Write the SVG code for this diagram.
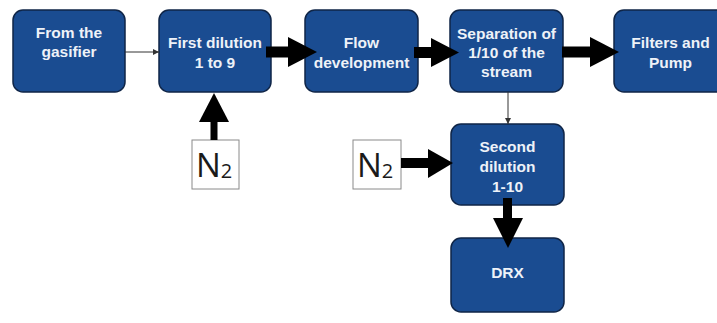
<svg xmlns="http://www.w3.org/2000/svg" width="717" height="323" viewBox="0 0 717 323">
<style>
.box{fill:#1a4c91;stroke:#0f2547;stroke-width:1.5}
.lbl{font-family:"Liberation Sans",Arial,sans-serif;font-weight:bold;font-size:15.5px;fill:#eef2f8;text-anchor:middle}
.nbox{fill:#ffffff;stroke:#8a8a8a;stroke-width:1}
.n2{font-family:"Open Sans","Liberation Sans",sans-serif;font-size:33px;fill:#1a1a1a}
.thick{fill:#000000}
.thin{stroke:#333333;stroke-width:1;fill:none}
</style>
<defs>
<marker id="sm" markerWidth="6" markerHeight="6" refX="6" refY="3" orient="auto" markerUnits="userSpaceOnUse">
<path d="M0,0 L6,3 L0,6 Z" fill="#333333"/>
</marker>
</defs>
<rect width="717" height="323" fill="#ffffff"/>
<g id="node-gasifier">
<rect class="box" x="13" y="10" width="112" height="82" rx="10"/>
<text class="lbl" x="69" y="38">From the</text>
<text class="lbl" x="69" y="57">gasifier</text>
</g>
<g id="node-first-dilution">
<rect class="box" x="159" y="10" width="112" height="82" rx="10"/>
<text class="lbl" x="215" y="48">First dilution</text>
<text class="lbl" x="215" y="68">1 to 9</text>
</g>
<g id="node-flow">
<rect class="box" x="305" y="10" width="113" height="82" rx="10"/>
<text class="lbl" x="361.5" y="48">Flow</text>
<text class="lbl" x="361.5" y="68">development</text>
</g>
<g id="node-separation">
<rect class="box" x="450" y="10" width="113" height="82" rx="10"/>
<text class="lbl" x="506.5" y="39">Separation of</text>
<text class="lbl" x="506.5" y="58">1/10 of the</text>
<text class="lbl" x="506.5" y="77">stream</text>
</g>
<g id="node-filters">
<rect class="box" x="614" y="10" width="113" height="82" rx="10"/>
<text class="lbl" x="670.5" y="48">Filters and</text>
<text class="lbl" x="670.5" y="68">Pump</text>
</g>
<g id="node-second-dilution">
<rect class="box" x="451" y="124" width="113" height="81" rx="10"/>
<text class="lbl" x="507.5" y="152">Second</text>
<text class="lbl" x="507.5" y="172">dilution</text>
<text class="lbl" x="507.5" y="192">1-10</text>
</g>
<g id="node-drx">
<rect class="box" x="451" y="238" width="113" height="74" rx="10"/>
<text class="lbl" x="507.5" y="278">DRX</text>
</g>
<g id="node-n2-a">
<rect class="nbox" x="192" y="140" width="47" height="49"/>
<text class="n2" x="196" y="177">N<tspan font-size="20" dy="1">2</tspan></text>
</g>
<g id="node-n2-b">
<rect class="nbox" x="353" y="140" width="48" height="49"/>
<text class="n2" x="357" y="177">N<tspan font-size="20" dy="1">2</tspan></text>
</g>
<g id="connectors">
<line class="thin" x1="125" y1="52" x2="159" y2="52" marker-end="url(#sm)"/>
<line class="thin" x1="508" y1="92" x2="508" y2="124" marker-end="url(#sm)"/>
<rect class="thick" x="266" y="46.5" width="24" height="11"/>
<polygon class="thick" points="288,37 317,52 288,67"/>
<rect class="thick" x="414" y="47" width="19" height="11"/>
<polygon class="thick" points="431,38 459,52.5 431,67"/>
<rect class="thick" x="562" y="46.5" width="30" height="11"/>
<polygon class="thick" points="590,37 619,52 590,67"/>
<rect class="thick" x="210.5" y="120" width="7" height="20"/>
<polygon class="thick" points="199,122 214,93 229,122"/>
<rect class="thick" x="401" y="158" width="30" height="10"/>
<polygon class="thick" points="428,149 453,163 428,178"/>
<rect class="thick" x="503" y="198" width="9" height="22"/>
<polygon class="thick" points="493,218 508,248 523,218"/>
</g>
</svg>
